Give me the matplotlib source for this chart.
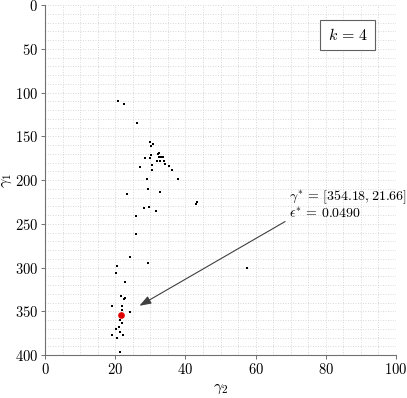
import matplotlib
matplotlib.use("Agg")
import matplotlib.pyplot as plt
from matplotlib.ticker import MultipleLocator

plt.rcParams['font.family'] = ['cmr10', 'DejaVu Serif']
plt.rcParams['mathtext.fontset'] = 'cm'
plt.rcParams['axes.formatter.use_mathtext'] = True

# gamma_2 (x) and gamma_1 (y) of the sampled points
gamma2 = [20.9, 22.4, 26.3, 30.0, 30.9, 30.1, 32.6, 32.1, 30.1, 28.5, 29.8,
          32.5, 33.1, 33.5, 32.0, 32.7, 33.9, 34.3, 30.4, 35.3, 27.1, 30.6,
          36.2, 29.1, 37.9, 29.4, 32.9, 23.4, 43.3, 43.0, 29.6, 28.1, 31.7,
          25.8, 26.0, 24.3, 29.4, 20.4, 20.3, 57.5, 22.7, 21.7, 22.9, 22.6,
          19.1, 21.9, 21.8, 24.2, 21.6, 21.7, 21.3, 21.8, 21.2, 20.2, 19.0,
          21.3, 22.1, 20.4, 21.5]
gamma1 = [109, 113, 135, 157, 159, 160.6, 168.6, 170, 171, 175, 175,
          174, 174, 174, 178, 178, 178, 182, 183, 184, 185, 189,
          189, 199, 199, 210, 214, 216, 225, 227.6, 230.6, 232, 235.6,
          241, 262, 288, 295, 298, 306, 301, 317, 333, 335, 336,
          344, 344, 348, 351, 357, 356, 360, 363, 368, 370, 377,
          374, 377, 381, 396]
best_g1 = 354.18
best_g2 = 21.66
best_eps = 0.0490
k_value = 4

fig = plt.figure(figsize=(4.07, 3.98), dpi=100)
ax = fig.add_axes([0.1106, 0.108, 0.8624, 0.879])

ax.scatter(gamma2, gamma1, s=3.5, marker='s', color='black', linewidths=0, zorder=3)
ax.plot([best_g2], [best_g1], 'o', color='#e00000', markersize=3.8, zorder=4)

ax.set_xlim(0, 100)
ax.set_ylim(400, 0)
ax.xaxis.set_major_locator(MultipleLocator(20))
ax.yaxis.set_major_locator(MultipleLocator(50))
ax.xaxis.set_minor_locator(MultipleLocator(5))
ax.yaxis.set_minor_locator(MultipleLocator(10))
ax.grid(True, which='both', linestyle=(0, (1, 2)), color='#cccccc', linewidth=0.6)
ax.set_axisbelow(True)

for s in ['top', 'right']:
    ax.spines[s].set_visible(False)
for s in ['left', 'bottom']:
    ax.spines[s].set_color('#707070')
    ax.spines[s].set_linewidth(0.8)
ax.tick_params(which='major', direction='out', length=3, width=0.7, color='#707070',
               labelsize=10.5, pad=2)
ax.tick_params(which='minor', length=0)

ax.set_xlabel(r'$\gamma_2$', fontsize=11.5, labelpad=3)
ax.set_ylabel(r'$\gamma_1$', fontsize=11.5)
ax.yaxis.set_label_coords(-0.088, 0.5)

# arrow
ax.annotate('', xy=(26.9, 343.7), xytext=(68.4, 247.4),
            arrowprops=dict(arrowstyle='-|>,head_length=0.7,head_width=0.25',
                            color='#404040', lw=0.8, shrinkA=0, shrinkB=0))
ax.text(69.6, 228, r'$\gamma^{*}\,=\,[%.2f, %.2f]$' % (best_g1, best_g2) + '\n' +
        r'$\epsilon^{*}\,=\,%.4f$' % best_eps,
        fontsize=10, ha='left', va='center', linespacing=1.05, clip_on=False)

ax.text(86.3, 34, r'$k\,=\,%d$' % k_value, fontsize=11.5, ha='center', va='center',
        bbox=dict(boxstyle='square,pad=0.45', facecolor='white', edgecolor='#606060', linewidth=0.8))

fig.savefig('out.png', dpi=100)
